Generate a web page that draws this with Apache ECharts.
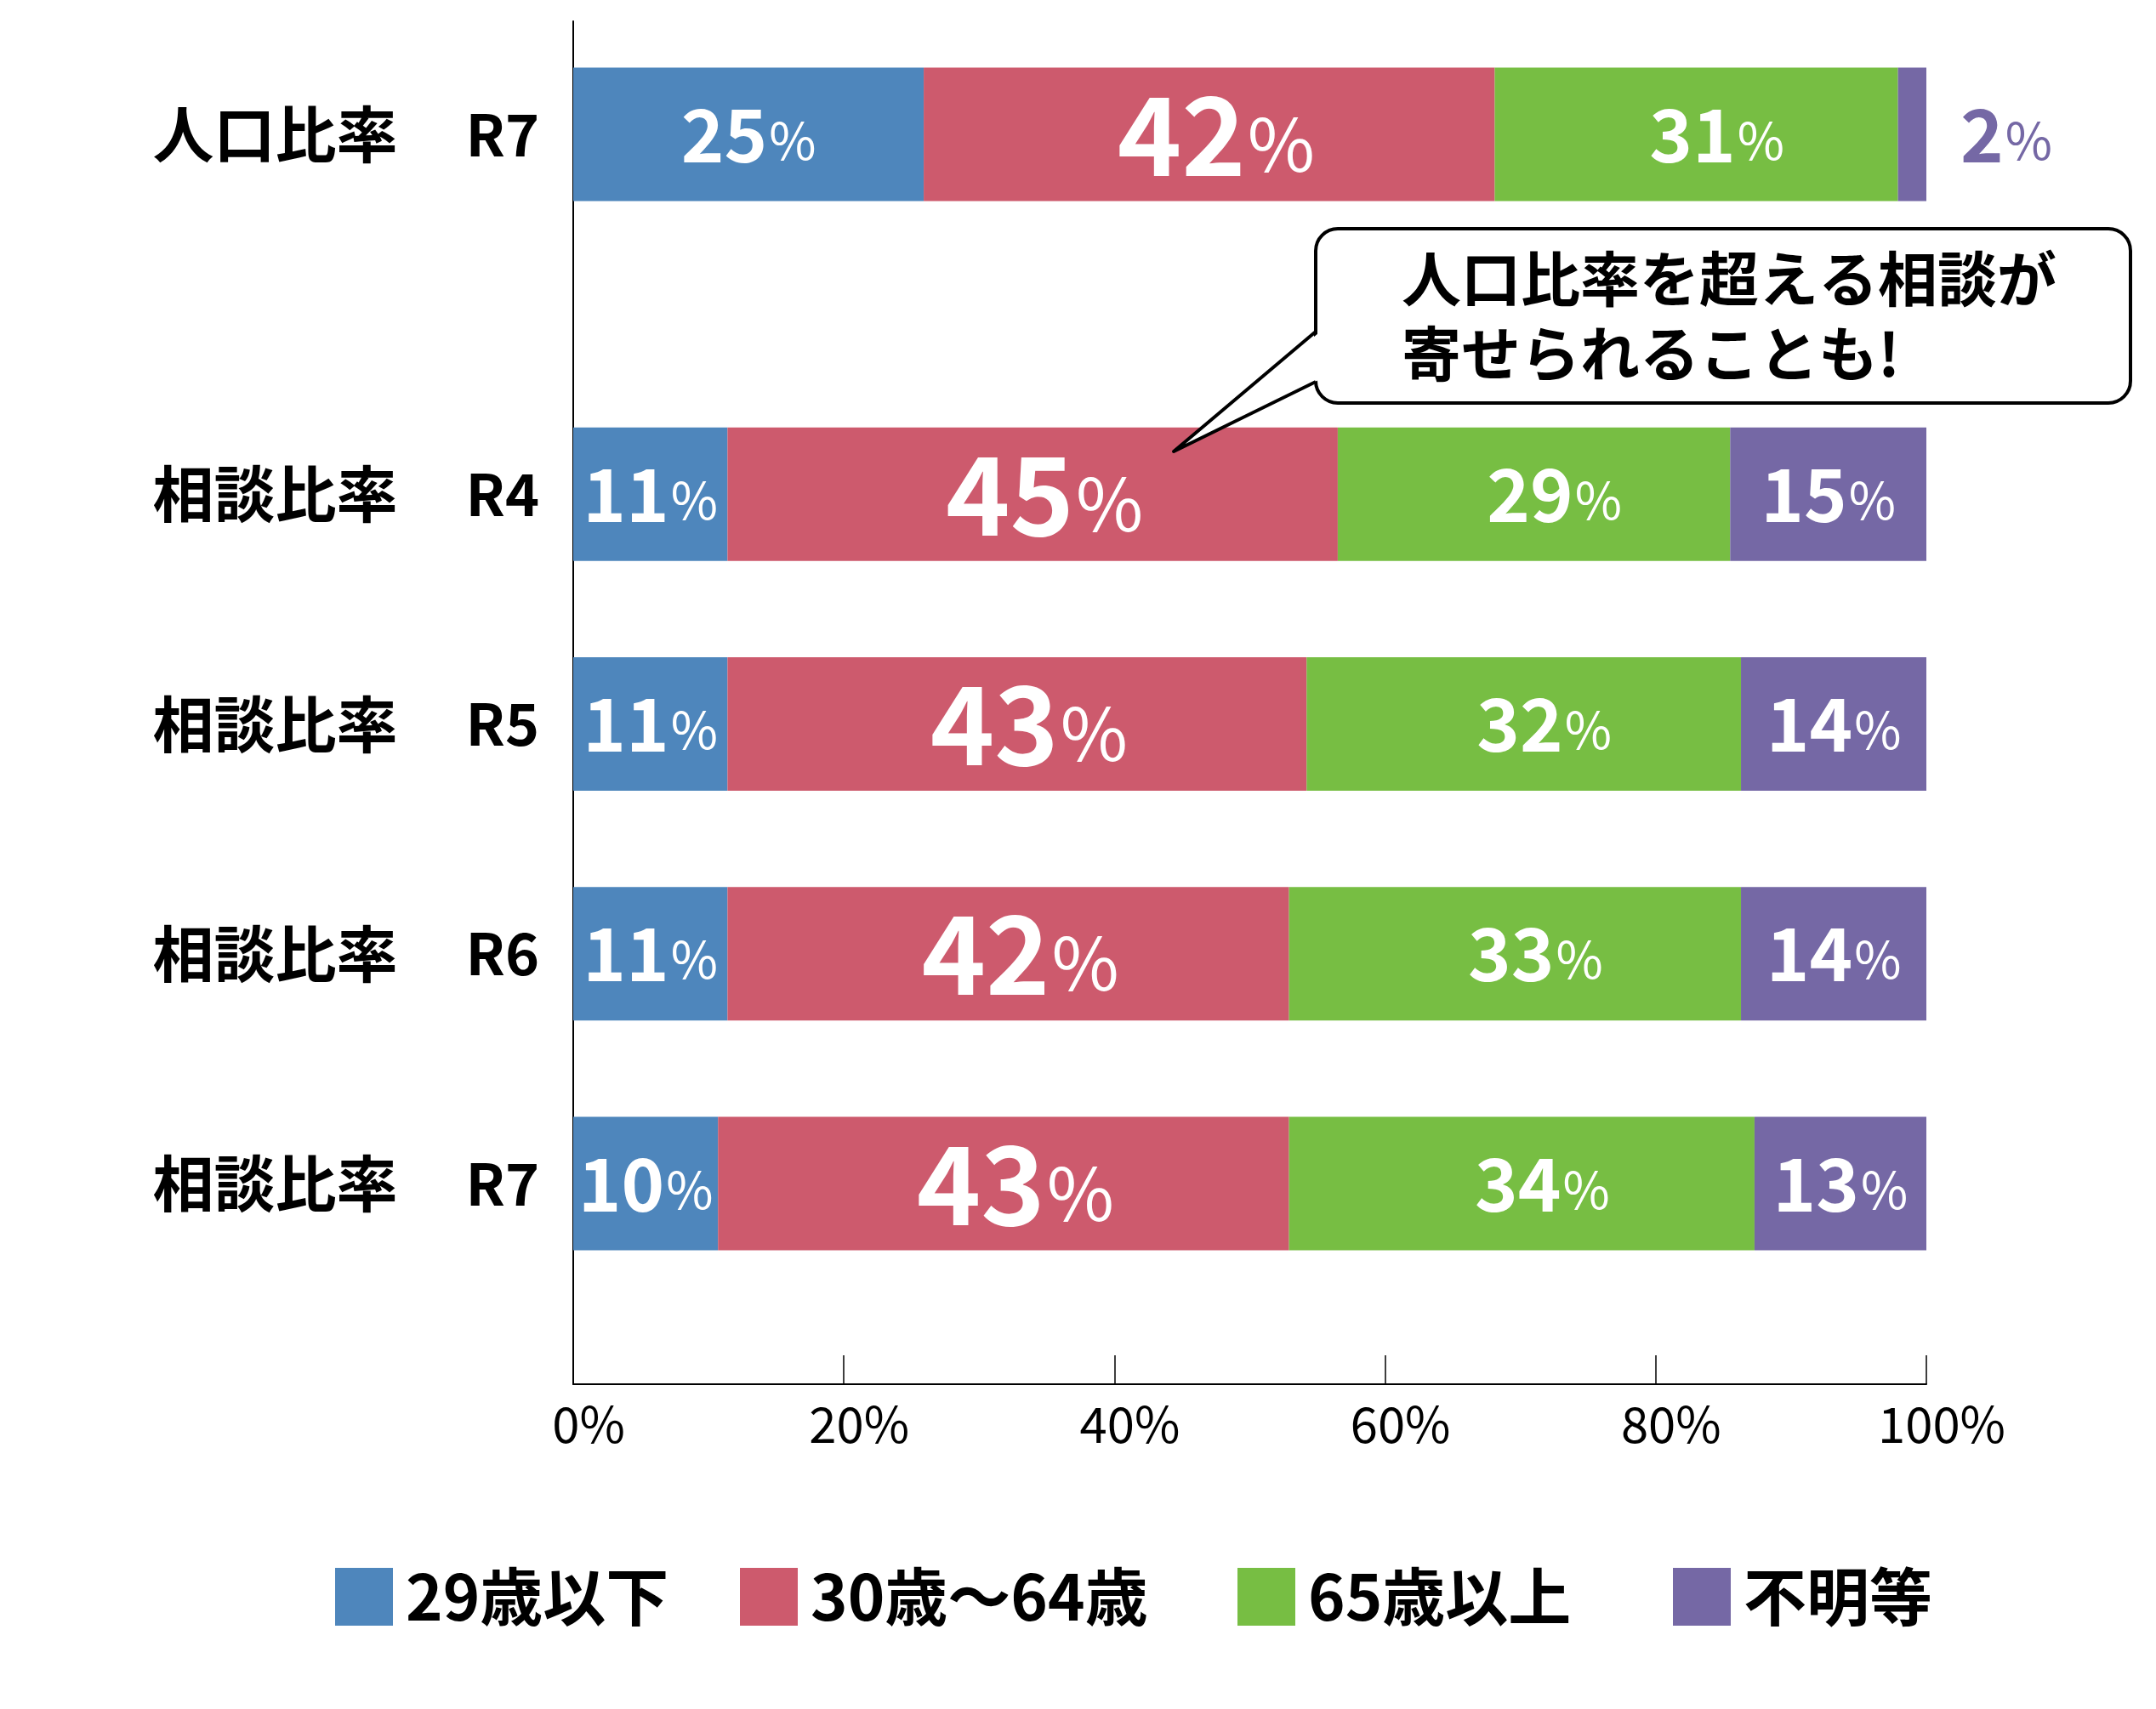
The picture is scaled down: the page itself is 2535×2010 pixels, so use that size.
<!DOCTYPE html>
<html>
<head>
<meta charset="utf-8">
<script src="https://cdn.jsdelivr.net/npm/echarts@6/dist/echarts.min.js"></script>
<style>
  html, body { margin: 0; padding: 0; background: #fff; }
  #chart { width: 2535px; height: 2010px; }
</style>
</head>
<body>
<div id="chart"></div>
<script>
/* データ */
const ageGroups = ["29歳以下", "30歳～64歳", "65歳以上", "不明等"];
const colors = ["#4e86bc", "#cd5a6d", "#77be43", "#7568a5"];

const popCategory = ["人口比率\u3000R7"];
const popValues = [25.9, 42.2, 29.8, 2.1];   // 棒の長さ
const popLabels = [25, 42, 31, 2];           // 表示ラベル

const consultCategories = ["相談比率\u3000R4", "相談比率\u3000R5", "相談比率\u3000R6", "相談比率\u3000R7"];
const under29 = [11.4, 11.4, 11.4, 10.7];
const age30to64 = [45.1, 42.8, 41.5, 42.2];
const over65 = [29.0, 32.1, 33.4, 34.4];
const unknown = [14.5, 13.7, 13.7, 12.7];
const under29Labels = [11, 11, 11, 10];
const age30to64Labels = [45, 43, 42, 43];
const over65Labels = [29, 32, 33, 34];
const unknownLabels = [15, 14, 14, 13];

const xTicks = [0, 20, 40, 60, 80, 100];

const calloutLines = ["人口比率を超える相談が", "寄せられることも!"];

const FONT = "'Noto Sans CJK JP', 'Noto Sans', sans-serif";

/* 共通 */
const chart = echarts.init(document.getElementById("chart"));
const plotLeft = 674, plotRight = 270;
const labelShift = [0, 14, 24, 0];   // 元図のラベル位置のずれ
const legendLeft = [394, 870, 1455, 1967];

function valueLabel(labels, big, color){
	const numSize = big ? 128 : 86;
	const pctSize = big ? 86 : 60;
	return {
		show: true,
		position: "inside",
		color: color || "#fff",
		fontFamily: FONT,
		formatter: p => `{n|${labels[p.dataIndex]}}{p|%}`,
		rich: {
			n: {fontSize: numSize, fontWeight: "bold", fontFamily: FONT, color: color || "#fff",
				lineHeight: numSize, verticalAlign: "bottom"},
			p: {fontSize: pctSize, fontWeight: "normal", fontFamily: FONT, color: color || "#fff",
				lineHeight: pctSize, verticalAlign: "bottom", padding: [0, 0, big ? 10 : 6, 2]}
		}
	};
}

const catLabel = {
	fontFamily: FONT,
	color: "#000",
	margin: 40,
	formatter: v => {
		const [a, b] = v.split("\u3000");
		return `{a|${a}}{b|${b}}`;
	},
	rich: {
		a: {fontSize: 72, fontWeight: "bold", fontFamily: FONT, color: "#000"},
		b: {fontSize: 68, fontWeight: "bold", fontFamily: FONT, color: "#000", padding: [0, 0, 0, 80]}
	}
};

const popSeries = popValues.map((v, i) => {
	let label;
	if(i === 3){
		label = Object.assign(valueLabel([popLabels[i]], false, colors[3]), {position: "right", distance: 40});
	}else{
		label = Object.assign(valueLabel([popLabels[i]], i === 1), {offset: [i === 1 ? 8 : labelShift[i], 0]});
	}
	return {
		name: ageGroups[i],
		type: "bar",
		stack: "pop",
		xAxisIndex: 1,
		yAxisIndex: 1,
		barWidth: 157,
		data: [v],
		itemStyle: {color: colors[i]},
		label
	};
});

const consultData = [under29, age30to64, over65, unknown];
const consultLabelData = [under29Labels, age30to64Labels, over65Labels, unknownLabels];
const consultSeries = consultData.map((arr, i) => ({
	name: ageGroups[i],
	type: "bar",
	stack: "consult",
	xAxisIndex: 2,
	yAxisIndex: 2,
	barWidth: 157,
	data: arr,
	itemStyle: {color: colors[i]},
	label: Object.assign(valueLabel(consultLabelData[i], i === 1), {offset: [labelShift[i], 0]})
}));

const hiddenX = {type: "value", min: 0, max: 100, show: false, splitLine: {show: false}};

const legends = ageGroups.map((name, i) => ({
	data: [name],
	left: legendLeft[i],
	top: 1841,
	itemWidth: 68,
	itemHeight: 68,
	icon: "rect",
	padding: 0,
	selectedMode: false,
	textStyle: {fontSize: 74, fontWeight: "bold", fontFamily: FONT, color: "#000", padding: [0, 0, 0, 10]}
}));

const option = {
	animation: false,
	backgroundColor: "#fff",
	grid: [
		// 枠（軸線と目盛）
		{left: plotLeft, right: plotRight, top: 25, height: 1603},
		// 人口比率
		{left: plotLeft, right: plotRight, top: 25, height: 266},
		// 相談比率
		{left: plotLeft, right: plotRight, top: 446, height: 1081}
	],
	xAxis: [
		{
			type: "value", gridIndex: 0, min: 0, max: 100, interval: 20,
			axisLine: {onZero: false, lineStyle: {color: "#000", width: 2}},
			axisTick: {show: true, inside: true, length: 34, lineStyle: {color: "#000", width: 1.5}},
			splitLine: {show: false},
			axisLabel: {
				formatter: "{value}%", fontSize: 58, fontFamily: FONT, color: "#000",
				margin: 18, padding: [0, 0, 0, 36],
				customValues: xTicks
			}
		},
		Object.assign({gridIndex: 1}, hiddenX),
		Object.assign({gridIndex: 2}, hiddenX)
	],
	yAxis: [
		{
			type: "value", gridIndex: 0, min: 0, max: 1,
			axisLine: {show: true, lineStyle: {color: "#000", width: 2}},
			axisTick: {show: false}, axisLabel: {show: false}, splitLine: {show: false}
		},
		{
			type: "category", gridIndex: 1, data: popCategory, inverse: true,
			axisLine: {show: false}, axisTick: {show: false}, axisLabel: catLabel
		},
		{
			type: "category", gridIndex: 2, data: consultCategories, inverse: true,
			axisLine: {show: false}, axisTick: {show: false}, axisLabel: catLabel
		}
	],
	legend: legends,
	series: [...popSeries, ...consultSeries],
	graphic: [
		{
			type: "rect", z: 100,
			shape: {x: 1547, y: 269, width: 958, height: 205, r: 26},
			style: {fill: "#fff", stroke: "#000", lineWidth: 4}
		},
		{
			type: "polygon", z: 101,
			shape: {points: [[1550, 392], [1381, 531], [1550, 447]]},
			style: {fill: "#fff"}
		},
		{
			type: "polyline", z: 102,
			shape: {points: [[1547, 390], [1380, 531], [1547, 449]]},
			style: {stroke: "#000", lineWidth: 4, fill: null, lineJoin: "round"}
		},
		{
			type: "text", z: 103,
			left: 1648, top: 284,
			style: {
				text: calloutLines.join("\n"),
				fontSize: 70, fontWeight: "bold", fontFamily: FONT, fill: "#000",
				lineHeight: 88
			}
		}
	]
};

chart.setOption(option);
</script>
</body>
</html>
